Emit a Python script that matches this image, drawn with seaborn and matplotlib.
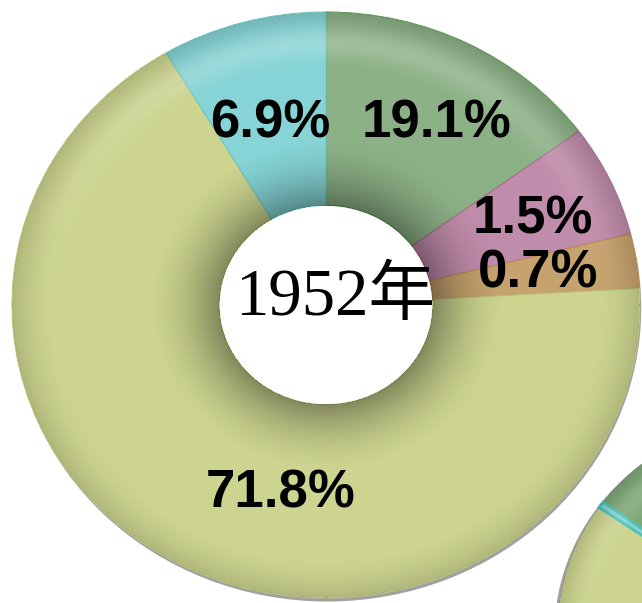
import numpy as np
import matplotlib
matplotlib.use("Agg")
import matplotlib.pyplot as plt
from matplotlib.patches import Wedge
import seaborn as sns

# ring slices clockwise from 12 o'clock (wedge sizes as drawn in the picture)
slice_names = ["slice A", "slice B", "slice C", "slice D", "slice E"]
slice_shares = [14.9, 6.2, 3.0, 67.4, 8.5]
pct_labels = ["19.1%", "1.5%", "0.7%", "71.8%", "6.9%"]
slice_colors = ["#8db187", "#c08cab", "#c6a36e", "#ccd48f", "#86d4d5"]
edge_colors = ["#6f9a68", "#a8708f", "#c08a50", "#b9c27a", "#6ec6c0"]
year_label = "1952年"

# the next ring, only its corner shows at bottom right
next_shares = [20.0, 5.0, 3.0, 71.5, 0.5]

W, H = 642, 603
CX, CY, RX, RY = 326, 305, 314, 293   # ring centre and radii in pixels
HOLE = 0.34


def to_data(px, py):
    return (px - CX) / RX, (CY - py) / RY


# label positions in pixels
label_px = [(436, 123), (533, 219), (538, 273), (281, 494), (270, 123)]
year_px = (335, 298)

sns.set_theme(style="white")
plt.rcParams["font.family"] = ["Liberation Sans", "DejaVu Sans"]

fig = plt.figure(figsize=(W / 100, H / 100), dpi=100)
ax = fig.add_axes([0, 0, 1, 1])

xlim = to_data(0, 0)[0], to_data(W, 0)[0]
ylim = to_data(0, H)[1], to_data(0, 0)[1]

# soft grey shadow under the rings
ax.add_patch(Wedge((0.004, -0.012), 1.0, 0, 360, width=0.06,
                   facecolor="#7a7a7a", edgecolor="none", alpha=0.7, zorder=0))

nx_c, ny_c, nr = 1.471, -1.109, 0.733
ax.add_patch(Wedge((nx_c - 0.01, ny_c - 0.008), nr, 0, 360, width=0.05,
                   facecolor="#7a7a7a", edgecolor="none", alpha=0.7, zorder=0))

wedges, _ = ax.pie(slice_shares, colors=slice_colors, startangle=90,
                   counterclock=False, radius=1.0,
                   wedgeprops=dict(width=1 - HOLE, linewidth=0.8))
for w, ec in zip(wedges, edge_colors):
    w.set_zorder(1)
    w.set_edgecolor(ec)
wedges[0].set_edgecolor("#5f9a55")

nwedges, _ = ax.pie(next_shares, colors=slice_colors, startangle=143.4,
                    counterclock=False, radius=nr, center=(nx_c, ny_c),
                    wedgeprops=dict(width=nr * (1 - HOLE), edgecolor="none"))
for w in nwedges:
    w.set_zorder(1)
nwedges[0].set_facecolor("#7fa878")
nwedges[4].set_edgecolor("#4fc2b8")
nwedges[4].set_linewidth(2)

# 3d look: dark near the hole and the rim, gloss band near the top rim
xs = np.linspace(xlim[0], xlim[1], W)
ys = np.linspace(ylim[0], ylim[1], H)
X, Y = np.meshgrid(xs, ys)


def shade(rho, top):
    ring = (rho >= HOLE) & (rho <= 1.0)
    dark = 0.36 * np.clip((0.58 - rho) / 0.24, 0, 1) ** 1.8
    dark += 0.14 * np.clip((rho - 0.85) / 0.15, 0, 1) ** 2
    gloss = 0.2 * np.exp(-((rho - 0.9) / 0.05) ** 2) * np.clip(top, 0, 1)
    return np.where(ring, dark, 0), np.where(ring, gloss, 0)


rho = np.hypot(X, Y)
d1, g1 = shade(rho, Y / np.maximum(rho, 1e-6))
rho2 = np.hypot(X - nx_c, Y - ny_c) / nr
d2, g2 = shade(rho2, (Y - ny_c) / np.maximum(rho2 * nr, 1e-6))
dark = d1 + d2
gloss = g1 + g2

dark_img = np.zeros((H, W, 4))
dark_img[..., 3] = dark
gloss_img = np.ones((H, W, 4))
gloss_img[..., 3] = gloss
ext = (xlim[0], xlim[1], ylim[0], ylim[1])
ax.imshow(dark_img, extent=ext, origin="lower", aspect="auto", zorder=2,
          interpolation="bilinear")
ax.imshow(gloss_img, extent=ext, origin="lower", aspect="auto", zorder=2,
          interpolation="bilinear")

for txt, (px, py) in zip(pct_labels, label_px):
    x, y = to_data(px, py)
    ax.text(x, y, txt, ha="center", va="center", fontsize=38,
            fontweight="bold", color="black", zorder=5)

yx, yy = to_data(*year_px)
ax.text(yx, yy, year_label, ha="center", va="center", fontsize=48,
        color="black", family=["Liberation Serif", "Noto Sans CJK SC"],
        zorder=5)

ax.set_aspect("auto")
ax.set_xlim(*xlim)
ax.set_ylim(*ylim)
ax.axis("off")

fig.savefig("out.png", dpi=100, facecolor="white")
